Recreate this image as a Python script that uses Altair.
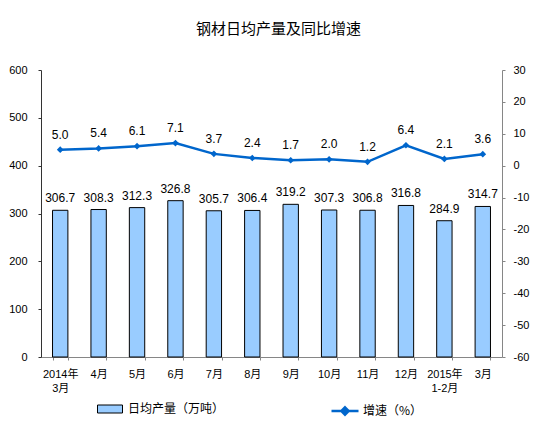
import altair as alt
import pandas as pd

# data
months = ['2014年\n3月', '4月', '5月', '6月', '7月', '8月', '9月', '10月',
          '11月', '12月', '2015年\n1-2月', '3月']
output = [306.7, 308.3, 312.3, 326.8, 305.7, 306.4, 319.2, 307.3, 306.8, 316.8, 284.9, 314.7]
growth = [5.0, 5.4, 6.1, 7.1, 3.7, 2.4, 1.7, 2.0, 1.2, 6.4, 2.1, 3.6]
left_ticks = [0, 100, 200, 300, 400, 500, 600]
right_ticks = [-60, -50, -40, -30, -20, -10, 0, 10, 20, 30]

bar_name = '日均产量（万吨）'
line_name = '增速（%）'

d = pd.DataFrame({'month': months, 'output': output, 'growth': growth})
d['bar_s'] = bar_name
d['line_s'] = line_name

FONT = "'Liberation Sans', 'Noto Sans CJK SC'"
CJK = "'Noto Sans CJK SC'"
BLUE = '#0066CC'

x = alt.X('month:N', sort=months,
          scale=alt.Scale(paddingInner=0.6, paddingOuter=0.3),
          axis=alt.Axis(title=None, labelAngle=0, tickBand='extent', tickSize=3,
                        domainColor='#868686', tickColor='#868686', labelPadding=8,
                        labelFontSize=11, labelFont=FONT, labelColor='black',
                        labelLineHeight=14, labelExpr="split(datum.label, '\\n')"))

y_left = alt.Y('output:Q', scale=alt.Scale(domain=[0, 600]),
               axis=alt.Axis(title=None, values=left_ticks, tickSize=3, labelPadding=11,
                             domainColor='#333333', tickColor='#333333', labelColor='black',
                             labelFontSize=11, labelFont=FONT, grid=False, labelOverlap=False))

y_right = alt.Y('growth:Q', scale=alt.Scale(domain=[-60, 30]),
                axis=alt.Axis(title=None, orient='right', values=right_ticks, tickSize=3,
                              labelPadding=8, domainColor='#868686', tickColor='#868686',
                              labelColor='black', labelFontSize=11, labelFont=FONT, grid=False,
                              labelOverlap=False, labelExpr="toString(datum.value)"))

base = alt.Chart(d).encode(x=x)

# bars + labels on the left axis
bars = base.mark_bar(stroke='black', strokeWidth=1).encode(
    y=y_left,
    fill=alt.Fill('bar_s:N', scale=alt.Scale(domain=[bar_name], range=['#99CCFF']),
                  legend=alt.Legend(title=None, orient='none', legendX=56, legendY=326,
                                    symbolType='M-1,-0.32H1V0.32H-1Z', symbolSize=625,
                                    symbolStrokeColor='black', symbolStrokeWidth=1,
                                    labelFont=CJK, labelFontSize=12, labelColor='black',
                                    labelOffset=5))
)
bar_text = base.mark_text(baseline='bottom', dy=-5, fontSize=12, font=FONT, color='black').encode(
    y=y_left,
    text=alt.Text('output:Q', format='.1f')
)
bar_layer = alt.layer(bars, bar_text)

# growth line on the right axis
line = base.mark_line(strokeWidth=2.5).encode(
    y=y_right,
    stroke=alt.Stroke('line_s:N', scale=alt.Scale(domain=[line_name], range=[BLUE]),
                      legend=alt.Legend(title=None, orient='none', legendX=289, legendY=326,
                                        symbolType='M-1,0H1M0,-0.27L0.27,0L0,0.27L-0.27,0Z',
                                        symbolSize=729, symbolFillColor=BLUE,
                                        symbolStrokeWidth=2.5, labelFont=CJK,
                                        labelFontSize=12, labelColor='black', labelOffset=3))
)
points = base.mark_point(shape='diamond', filled=True, size=45, color=BLUE, opacity=1).encode(
    y=y_right
)
line_text = base.mark_text(baseline='bottom', dy=-8, fontSize=12, font=FONT, color='black').encode(
    y=y_right,
    text=alt.Text('growth:Q', format='.1f')
)
line_layer = alt.layer(line, points, line_text)

chart = alt.layer(bar_layer, line_layer).resolve_scale(
    y='independent', fill='independent', stroke='independent'
).properties(
    width=461, height=287,
    autosize=alt.AutoSizeParams(type='none'),
    padding={'left': 33, 'top': 62, 'right': 44, 'bottom': 67},
    title=alt.Title('钢材日均产量及同比增速', font=CJK, fontSize=15, fontWeight='normal',
                    color='black', anchor='middle', offset=27, dx=7)
).configure_view(stroke=None)

chart.save('out.html', embed_options={'renderer': 'svg', 'actions': False})
